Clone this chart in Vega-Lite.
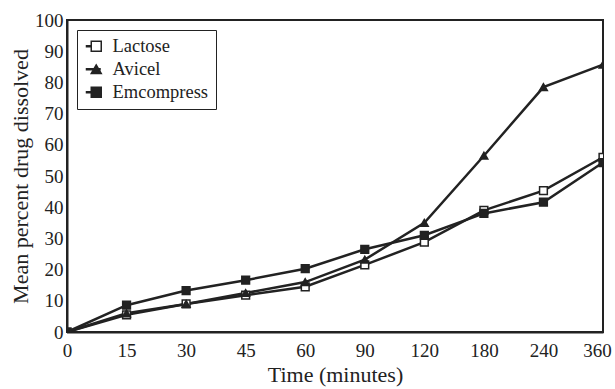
{
  "$schema": "https://vega.github.io/schema/vega-lite/v6.json",
  "autosize": {"type": "none"},
  "padding": {"left": 67, "top": 20, "right": 12, "bottom": 57},
  "width": 536,
  "height": 312,
  "background": "white",
  "config": {
    "font": "Liberation Serif",
    "view": {"stroke": "#222", "strokeWidth": 2},
    "axis": {
      "labelFont": "Liberation Serif",
      "titleFont": "Liberation Serif",
      "labelFontSize": 19,
      "titleFontSize": 22,
      "titleFontWeight": "normal",
      "labelColor": "#222",
      "titleColor": "#222",
      "domainColor": "#222",
      "domainWidth": 2,
      "grid": false,
      "tickSize": 0
    },
    "legend": {
      "labelFont": "Liberation Serif",
      "labelFontSize": 18.5,
      "labelColor": "#222"
    }
  },
  "data": {
    "values": [
      {"series": "Lactose", "time": 0, "value": 0},
      {"series": "Lactose", "time": 15, "value": 5.5},
      {"series": "Lactose", "time": 30, "value": 9},
      {"series": "Lactose", "time": 45, "value": 11.8},
      {"series": "Lactose", "time": 60, "value": 14.5},
      {"series": "Lactose", "time": 90, "value": 21.5},
      {"series": "Lactose", "time": 120, "value": 28.8},
      {"series": "Lactose", "time": 180, "value": 39},
      {"series": "Lactose", "time": 240, "value": 45.3},
      {"series": "Lactose", "time": 360, "value": 56},
      {"series": "Avicel", "time": 0, "value": 0},
      {"series": "Avicel", "time": 15, "value": 6},
      {"series": "Avicel", "time": 30, "value": 9},
      {"series": "Avicel", "time": 45, "value": 12.5},
      {"series": "Avicel", "time": 60, "value": 16},
      {"series": "Avicel", "time": 90, "value": 23.2},
      {"series": "Avicel", "time": 120, "value": 35},
      {"series": "Avicel", "time": 180, "value": 56.5},
      {"series": "Avicel", "time": 240, "value": 78.5},
      {"series": "Avicel", "time": 360, "value": 85.7},
      {"series": "Emcompress", "time": 0, "value": 0},
      {"series": "Emcompress", "time": 15, "value": 8.6},
      {"series": "Emcompress", "time": 30, "value": 13.3},
      {"series": "Emcompress", "time": 45, "value": 16.6},
      {"series": "Emcompress", "time": 60, "value": 20.3},
      {"series": "Emcompress", "time": 90, "value": 26.5},
      {"series": "Emcompress", "time": 120, "value": 31},
      {"series": "Emcompress", "time": 180, "value": 38},
      {"series": "Emcompress", "time": 240, "value": 41.6},
      {"series": "Emcompress", "time": 360, "value": 54.3}
    ]
  },
  "encoding": {
    "x": {
      "field": "time",
      "type": "ordinal",
      "scale": {"type": "point", "padding": 0},
      "axis": {
        "title": "Time (minutes)",
        "labelAngle": 0,
        "labelPadding": 9,
        "titlePadding": 4,
        "labelOffset": {"condition": {"test": "datum.value == 360", "value": -6}, "value": 0}
      }
    },
    "y": {
      "field": "value",
      "type": "quantitative",
      "scale": {"domain": [0, 100], "nice": false},
      "axis": {"title": "Mean percent drug dissolved", "values": [0,10,20,30,40,50,60,70,80,90,100], "labelPadding": 4, "titlePadding": 2}
    }
  },
  "layer": [
    {
      "mark": {"type": "line", "strokeWidth": 2.5},
      "encoding": {
        "stroke": {
          "field": "series",
          "type": "nominal",
          "sort": ["Lactose", "Avicel", "Emcompress"],
          "scale": {"range": ["#222", "#222", "#222"]},
          "legend": {
            "title": null,
            "orient": "none",
            "legendX": 10,
            "legendY": 10,
            "strokeColor": "#222",
            "padding": 7,
            "symbolType": "stroke",
            "symbolSize": 225,
            "symbolStrokeWidth": 2.5,
            "labelOffset": 10,
            "rowPadding": 4
          }
        }
      }
    },
    {
      "mark": {"type": "point", "size": 60, "strokeWidth": 1.5, "opacity": 1, "clip": true},
      "encoding": {
        "shape": {
          "field": "series",
          "type": "nominal",
          "scale": {"domain": ["Lactose", "Avicel", "Emcompress"], "range": ["square", "triangle-up", "square"]},
          "legend": {
            "title": null,
            "orient": "none",
            "legendX": 10,
            "legendY": 10,
            "padding": 7,
            "symbolOffset": 3,
            "symbolStrokeWidth": 1.5,
            "labelOffset": 14,
            "labelExpr": "''",
            "rowPadding": 4
          }
        },
        "color": {
          "field": "series",
          "type": "nominal",
          "scale": {"domain": ["Lactose", "Avicel", "Emcompress"], "range": ["#222", "#222", "#222"]},
          "legend": {
            "title": null,
            "orient": "none",
            "legendX": 10,
            "legendY": 10,
            "padding": 7,
            "symbolOffset": 3,
            "symbolStrokeWidth": 1.5,
            "labelOffset": 14,
            "labelExpr": "''",
            "rowPadding": 4
          }
        },
        "fill": {
          "field": "series",
          "type": "nominal",
          "scale": {"domain": ["Lactose", "Avicel", "Emcompress"], "range": ["white", "#222", "#222"]},
          "legend": {
            "title": null,
            "orient": "none",
            "legendX": 10,
            "legendY": 10,
            "padding": 7,
            "symbolOffset": 3,
            "symbolStrokeWidth": 1.5,
            "labelOffset": 14,
            "labelExpr": "''",
            "rowPadding": 4
          }
        }
      }
    }
  ]
}
